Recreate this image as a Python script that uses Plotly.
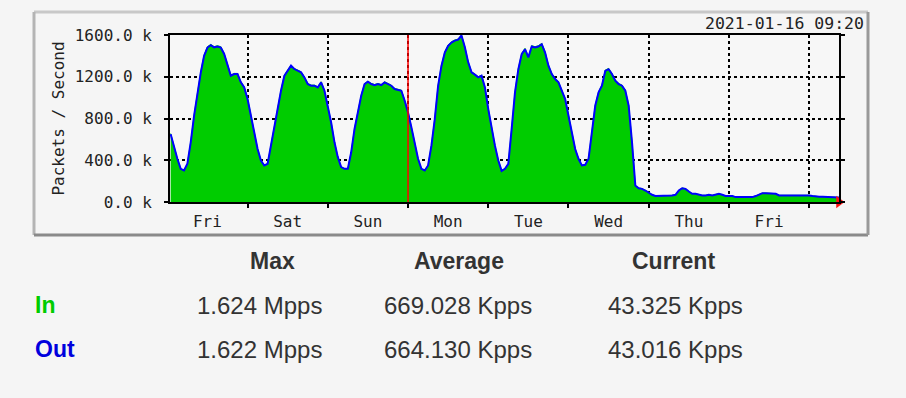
import pandas as pd
import plotly.graph_objects as go

# ---------------- data (packets per second, in thousands) ----------------
start_time = "2021-01-08 01:00"          # first hourly sample
range_start = "2021-01-08 00:48"
range_end = "2021-01-16 08:55"
week_marker = ["2021-01-11 00:00"]        # red line: start of week
timestamp_label = "2021-01-16 09:20"

in_kpps = [
    # Fri
    656, 528, 416, 320, 304, 368, 576, 832, 1056, 1248, 1408, 1488, 1510, 1488, 1498, 1488,
    1424, 1312, 1216, 1232, 1232, 1152, 1104, 992,
    # Sat
    832, 672, 512, 400, 352, 368, 544, 736, 912, 1072, 1216, 1264, 1312, 1280, 1264, 1248,
    1200, 1136, 1120, 1120, 1104, 1152, 1072, 928,
    # Sun
    768, 576, 432, 336, 320, 320, 480, 704, 880, 1024, 1136, 1158, 1136, 1126, 1136, 1126,
    1152, 1136, 1120, 1088, 1082, 1072, 976, 864,
    # Mon
    720, 576, 416, 320, 304, 352, 544, 800, 1120, 1312, 1440, 1504, 1536, 1552, 1562, 1600,
    1488, 1344, 1248, 1226, 1200, 1216, 1104, 896,
    # Tue
    704, 544, 400, 300, 320, 368, 704, 1056, 1280, 1424, 1472, 1392, 1498, 1488, 1498, 1520,
    1440, 1312, 1232, 1184, 1152, 1072, 992, 832,
    # Wed
    672, 512, 416, 352, 358, 416, 672, 928, 1056, 1120, 1264, 1280, 1232, 1168, 1136, 1120,
    1072, 928, 576, 160, 134, 128, 112, 90,
    # Thu
    70, 58, 58, 58, 58, 58, 64, 70, 112, 134, 128, 102, 80, 80, 70, 64,
    64, 70, 64, 70, 80, 70, 58, 58,
    # Fri
    58, 48, 48, 48, 48, 48, 48, 58, 70, 86, 86, 86, 86, 80, 64, 64,
    64, 64, 70, 70, 70, 64, 64, 64,
    # Sat
    58, 51, 51, 51, 51, 51, 45, 45, 43,
]

out_kpps = [
    # Fri
    650, 524, 414, 318, 302, 366, 572, 826, 1050, 1240, 1400, 1480, 1502, 1482, 1490, 1480,
    1418, 1306, 1210, 1226, 1226, 1146, 1098, 986,
    # Sat
    828, 668, 508, 398, 350, 366, 540, 730, 906, 1066, 1208, 1256, 1306, 1274, 1258, 1242,
    1194, 1130, 1114, 1114, 1098, 1146, 1066, 922,
    # Sun
    762, 572, 430, 334, 318, 318, 476, 700, 874, 1018, 1130, 1152, 1130, 1120, 1130, 1120,
    1146, 1130, 1114, 1082, 1076, 1066, 970, 858,
    # Mon
    716, 572, 414, 318, 302, 350, 540, 794, 1112, 1304, 1432, 1496, 1528, 1546, 1556, 1596,
    1482, 1338, 1242, 1220, 1194, 1210, 1098, 890,
    # Tue
    700, 540, 398, 298, 318, 366, 700, 1050, 1272, 1416, 1464, 1386, 1490, 1480, 1490, 1512,
    1432, 1306, 1226, 1178, 1146, 1066, 986, 826,
    # Wed
    668, 508, 414, 350, 356, 414, 668, 922, 1050, 1114, 1256, 1272, 1226, 1162, 1130, 1114,
    1066, 922, 572, 158, 132, 126, 110, 89,
    # Thu
    69, 57, 57, 57, 57, 57, 63, 69, 110, 132, 126, 100, 79, 79, 69, 63,
    63, 69, 63, 69, 79, 69, 57, 57,
    # Fri
    57, 47, 47, 47, 47, 47, 47, 57, 69, 85, 85, 85, 85, 79, 63, 63,
    63, 63, 69, 69, 69, 63, 63, 63,
    # Sat
    57, 50, 50, 50, 50, 50, 44, 44, 43,
]

y_tickvals = [0, 400000, 800000, 1200000, 1600000]
y_ticktext = ["0.0 k", "400.0 k", "800.0 k", "1200.0 k", "1600.0 k"]
y_title = "Packets / Second"

stat_headers = ["Max", "Average", "Current"]
row_names = ["In", "Out"]
in_stats = ["1.624 Mpps", "669.028 Kpps", "43.325 Kpps"]
out_stats = ["1.622 Mpps", "664.130 Kpps", "43.016 Kpps"]

# ---------------- figure ----------------
W, H = 906, 398
L, R, T, B = 170, 67, 35, 196
PW, PH = W - L - R, H - T - B

def px_x(x):
    return (x - L) / PW

def px_y(y):
    return (H - B - y) / PH

times = pd.date_range(start=start_time, periods=len(in_kpps), freq="h")
in_vals = [v * 1000 for v in in_kpps]
out_vals = [v * 1000 for v in out_kpps]

GREEN = "#00cc00"
BLUE = "#0000ff"
MONO = "DejaVu Sans Mono"
SANS = "Liberation Sans, Arial, Helvetica, sans-serif"
BG = "#f5f5f5"

fig = go.Figure()
fig.add_trace(go.Scatter(
    x=times, y=in_vals, mode="lines", name="In",
    fill="tozeroy", fillcolor=GREEN, line=dict(color=GREEN, width=1),
    hoverinfo="skip",
))
fig.add_trace(go.Scatter(
    x=times, y=out_vals, mode="lines", name="Out",
    line=dict(color=BLUE, width=2),
    hoverinfo="skip",
))
# red arrow at the end of the time axis
fig.add_trace(go.Scatter(
    x=[pd.Timestamp(range_end)], y=[0], mode="markers",
    marker=dict(symbol="triangle-right", size=11, color="#ff1010",
                line=dict(width=0)),
    cliponaxis=False, hoverinfo="skip",
))

shapes = []
# red week marker
for wm in week_marker:
    shapes.append(dict(type="line", xref="x", yref="paper", x0=wm, x1=wm, y0=0, y1=1,
                       line=dict(color="#ff0000", width=1.5), layer="above"))
# outer frame (light top/left, darker bottom/right)
fx0, fx1 = px_x(34), px_x(868)
fy0, fy1 = px_y(235), px_y(12)
shapes += [
    dict(type="line", xref="paper", yref="paper", x0=fx0, x1=fx1, y0=fy1, y1=fy1,
         line=dict(color="#c8c8c8", width=3)),
    dict(type="line", xref="paper", yref="paper", x0=fx0, x1=fx0, y0=fy0, y1=fy1,
         line=dict(color="#b4b4b4", width=3)),
    dict(type="line", xref="paper", yref="paper", x0=fx0, x1=fx1, y0=fy0, y1=fy0,
         line=dict(color="#8a8a8a", width=3)),
    dict(type="line", xref="paper", yref="paper", x0=fx1, x1=fx1, y0=fy0, y1=fy1,
         line=dict(color="#999999", width=3)),
]

annotations = [
    dict(text=timestamp_label, xref="paper", yref="paper", x=px_x(866), y=px_y(23),
         xanchor="right", yanchor="middle", showarrow=False,
         font=dict(family=MONO, size=16.5, color="#222")),
]
header_x = [272, 459, 673]
value_x = [259, 458, 675]
for hx, txt in zip(header_x, stat_headers):
    annotations.append(dict(text=f"<b>{txt}</b>", xref="paper", yref="paper",
                            x=px_x(hx), y=px_y(261), xanchor="center", yanchor="middle",
                            showarrow=False, font=dict(family=SANS, size=23, color="#333")))
row_y = [305, 349]
row_colors = [GREEN, "#0000dd"]
for ry, name, col, stats in zip(row_y, row_names, row_colors, [in_stats, out_stats]):
    annotations.append(dict(text=f"<b>{name}</b>", xref="paper", yref="paper",
                            x=px_x(33), y=px_y(ry), xanchor="left", yanchor="middle",
                            showarrow=False, font=dict(family=SANS, size=23, color=col)))
    for vx, s in zip(value_x, stats):
        annotations.append(dict(text=s, xref="paper", yref="paper",
                                x=px_x(vx), y=px_y(ry), xanchor="center", yanchor="middle",
                                showarrow=False, font=dict(family=SANS, size=24, color="#333")))

fig.update_layout(
    width=W, height=H,
    margin=dict(l=L, r=R, t=T, b=B, pad=0),
    paper_bgcolor=BG, plot_bgcolor="#f7f7f7",
    showlegend=False,
    shapes=shapes, annotations=annotations,
    xaxis=dict(
        type="date", range=[range_start, range_end],
        tick0="2021-01-08", dtick=86400000, tickformat="%a", ticklabelmode="period",
        ticks="outside", ticklen=4, tickwidth=1.5, tickcolor="black",
        showgrid=True, gridcolor="black", griddash="dot", gridwidth=1.5,
        showline=True, linecolor="black", linewidth=2, mirror=True,
        zeroline=False, tickfont=dict(family=MONO, size=16, color="#222"),
        fixedrange=True,
    ),
    yaxis=dict(
        range=[0, 1600000], tickvals=y_tickvals, ticktext=y_ticktext,
        ticks="outside", ticklen=4, tickwidth=1.5, tickcolor="black",
        ticklabelstandoff=9,
        showgrid=True, gridcolor="black", griddash="dot", gridwidth=1.5,
        showline=True, linecolor="black", linewidth=2, mirror="ticks",
        zeroline=False, tickfont=dict(family=MONO, size=16, color="#222"),
        title=dict(text=y_title, font=dict(family=MONO, size=16, color="#222"), standoff=6),
        fixedrange=True,
    ),
)

fig.write_html(
    "out.html",
    config={"displayModeBar": False},
    post_script="document.body.style.margin='0';document.body.style.background='%s';" % BG,
)
